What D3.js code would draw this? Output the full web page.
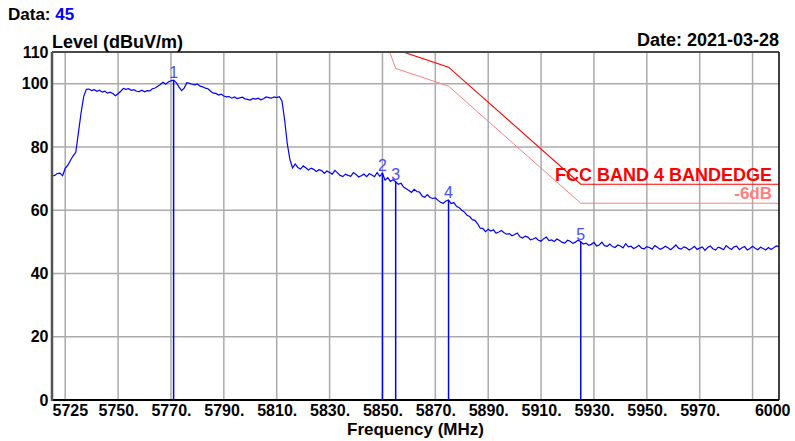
<!DOCTYPE html>
<html>
<head>
<meta charset="utf-8">
<script src="https://cdn.jsdelivr.net/npm/d3@7"></script>
<style>
  html, body { margin: 0; padding: 0; background: #fff; }
  svg { display: block; font-family: "Liberation Sans", Arial, sans-serif; }
</style>
</head>
<body>
<svg id="chart" width="795" height="441"></svg>
<script>
// Sweep: 5725–6000 MHz, one reading per MHz (dBuV/m)
const sweepStart = 5725;
const sweepStep = 1;
const levels = [
  70.8, 71.0, 71.6, 71.7, 70.9, 73.2, 74.2, 75.8, 77.2, 78.3,   // 5725
  84.5, 90.8, 96.0, 98.2, 98.3, 97.8, 98.1, 97.6, 97.9, 97.3,   // 5735
  97.6, 97.0, 97.3, 96.9, 96.2, 96.8, 97.6, 98.5, 98.2, 98.4,   // 5745
  97.9, 98.1, 97.6, 97.5, 97.9, 97.4, 97.8, 97.7, 98.4, 98.6,   // 5755
  99.2, 99.7, 100.4, 99.8, 100.5, 100.9, 101.1, 100.3, 99.0, 97.8, // 5765
  98.6, 100.3, 100.1, 99.8, 99.6, 99.9, 99.2, 99.0, 98.6, 98.4, // 5775
  97.6, 97.0, 96.9, 96.4, 96.7, 96.1, 95.8, 95.9, 95.4, 95.8,   // 5785
  95.3, 95.5, 95.7, 95.2, 95.0, 94.8, 95.3, 95.1, 95.4, 94.9,   // 5795
  95.2, 95.8, 95.6, 95.4, 95.8, 95.6, 95.9, 94.5, 88.5, 81.0,   // 5805
  76.0, 73.4, 74.6, 73.5, 73.0, 74.0, 73.4, 72.7, 73.3, 72.9,   // 5815
  72.2, 72.8, 72.5, 71.6, 72.4, 71.9, 71.4, 72.6, 71.8, 71.0,   // 5825
  70.6, 71.4, 71.0, 70.7, 71.9, 71.3, 70.5, 70.9, 71.4, 70.6,   // 5835
  71.5, 71.1, 70.6, 71.9, 70.7, 71.7, 69.5, 70.3, 69.1, 69.6,   // 5845
  69.0, 68.2, 68.5, 67.3, 66.8, 66.2, 65.6, 66.6, 65.9, 65.7,   // 5855
  64.5, 64.1, 64.9, 64.0, 63.7, 63.9, 63.1, 62.5, 62.2, 62.9,   // 5865
  63.2, 62.1, 62.4, 61.2, 60.8, 60.0, 59.4, 58.4, 58.0, 57.0,   // 5875
  56.8, 55.7, 54.3, 54.2, 53.2, 54.0, 53.4, 53.8, 52.7, 53.1,   // 5885
  53.6, 52.9, 52.4, 52.6, 51.9, 52.3, 52.8, 51.6, 51.2, 51.8,   // 5895
  51.5, 50.6, 50.9, 51.3, 50.5, 50.2, 51.0, 51.5, 50.4, 50.6,   // 5905
  50.1, 50.9, 50.4, 49.8, 49.6, 50.5, 50.2, 49.5, 49.9, 50.6,   // 5915
  50.0, 49.3, 49.6, 48.9, 49.2, 49.8, 48.7, 49.0, 49.9, 48.8,   // 5925
  48.6, 49.3, 48.5, 48.2, 49.0, 48.7, 48.1, 49.4, 48.4, 48.6,   // 5935
  47.9, 48.3, 48.9, 48.0, 47.8, 48.5, 48.2, 47.7, 48.8, 48.3,   // 5945
  47.6, 48.0, 48.6, 48.1, 47.5, 48.2, 49.0, 48.0, 47.7, 48.4,   // 5955
  48.1, 47.4, 47.9, 48.6, 47.6, 48.0, 48.4, 47.3, 48.2, 48.7,   // 5965
  47.8, 47.4, 48.3, 48.0, 47.5, 48.8, 48.1, 47.6, 48.4, 48.6,   // 5975
  47.5, 48.1, 48.5, 47.4, 47.9, 48.6, 48.0, 47.5, 48.3, 47.9,   // 5985
  47.4, 48.2, 47.6, 48.1, 48.7, 48.5                            // 5995
];

// Markers
const markerIds = ["1", "2", "3", "4", "5"];
const markerFreq = [5771, 5850, 5855, 5875, 5925];
const markerLevel = [101.1, 71.7, 69.0, 63.2, 50.0];

// FCC band 4 band-edge limit and the -6 dB line below it
const limitFreq = [5850, 5855, 5875, 5925, 6000];
const limitLevel = [122.2, 110.8, 105.2, 68.2, 68.2];
const marginDb = 6;

// Axes
const xDomain = [5725, 6000];
const yDomain = [0, 110];
const xGrid = [5730, 5750, 5770, 5790, 5810, 5830, 5850, 5870, 5890, 5910, 5930, 5950, 5970, 5990];
const xTickValues = [5725, 5750, 5770, 5790, 5810, 5830, 5850, 5870, 5890, 5910, 5930, 5950, 5970, 6000];
const xTickLabels = ["5725", "5750.", "5770.", "5790.", "5810.", "5830.", "5850.", "5870.", "5890.", "5910.", "5930.", "5950.", "5970.", "6000"];
const yTickValues = [0, 20, 40, 60, 80, 100, 110];
const yGrid = [20, 40, 60, 80, 100];

const dataNo = "45";
const dateText = "Date: 2021-03-28";

const trace = levels.map((v, i) => ({ f: sweepStart + i * sweepStep, v }));

const svg = d3.select("#chart");
const plot = { left: 52, right: 779, top: 52, bottom: 400 };

const x = d3.scaleLinear().domain(xDomain).range([plot.left, plot.right]);
const y = d3.scaleLinear().domain(yDomain).range([plot.bottom, plot.top]);

svg.append("defs").append("clipPath").attr("id", "plotClip")
  .append("rect")
  .attr("x", plot.left).attr("y", plot.top)
  .attr("width", plot.right - plot.left).attr("height", plot.bottom - plot.top);

// Grid
const grid = svg.append("g").attr("stroke", "#ababab").attr("stroke-width", 1.5);
grid.selectAll(".gx").data(xGrid).join("line")
  .attr("x1", d => x(d)).attr("x2", d => x(d))
  .attr("y1", plot.top).attr("y2", plot.bottom);
grid.selectAll(".gy").data(yGrid).join("line")
  .attr("x1", plot.left).attr("x2", plot.right)
  .attr("y1", d => y(d)).attr("y2", d => y(d));

// Limit lines
const limitPts = limitFreq.map((f, i) => ({ f, v: limitLevel[i] }));
const marginPts = limitPts.map(d => ({ f: d.f, v: d.v - marginDb }));
const lineGen = d3.line().x(d => x(d.f)).y(d => y(d.v));
const clipped = svg.append("g").attr("clip-path", "url(#plotClip)");
clipped.append("path").datum(marginPts)
  .attr("d", lineGen).attr("fill", "none")
  .attr("stroke", "#ff7f7f").attr("stroke-width", 1);
clipped.append("path").datum(limitPts)
  .attr("d", lineGen).attr("fill", "none")
  .attr("stroke", "#ff0000").attr("stroke-width", 1.1);

// Trace
clipped.append("path").datum(trace)
  .attr("d", lineGen).attr("fill", "none")
  .attr("stroke", "#0000ff").attr("stroke-width", 1.2)
  .attr("stroke-linejoin", "miter");

// Markers
const markers = markerIds.map((id, i) => ({ id, f: markerFreq[i], v: markerLevel[i] }));
svg.append("g").selectAll("line").data(markers).join("line")
  .attr("x1", d => x(d.f)).attr("x2", d => x(d.f))
  .attr("y1", d => y(d.v)).attr("y2", y(0))
  .attr("stroke", "#0000ff").attr("stroke-width", 1.5);
svg.append("g").selectAll("text").data(markers).join("text")
  .attr("x", d => x(d.f)).attr("y", d => y(d.v) - 2)
  .attr("text-anchor", "middle")
  .attr("font-size", 16).attr("fill", "#4a4aff")
  .text(d => d.id);

// Limit labels
svg.append("text")
  .attr("x", plot.right - 7).attr("y", y(limitLevel[limitLevel.length - 1]) - 3)
  .attr("text-anchor", "end").attr("font-size", 18).attr("font-weight", "bold")
  .attr("fill", "#ff0000").text("FCC BAND 4 BANDEDGE");
svg.append("text")
  .attr("x", plot.right - 7).attr("y", y(limitLevel[limitLevel.length - 1] - marginDb) - 4)
  .attr("text-anchor", "end").attr("font-size", 17).attr("font-weight", "bold")
  .attr("fill", "#ff7f7f").text("-" + marginDb + "dB");

// Frame
const frame = svg.append("g");
frame.append("line").attr("x1", plot.left).attr("x2", plot.right)
  .attr("y1", plot.top).attr("y2", plot.top).attr("stroke", "#4a4a4a").attr("stroke-width", 2);
frame.append("line").attr("x1", plot.right).attr("x2", plot.right)
  .attr("y1", plot.top).attr("y2", plot.bottom).attr("stroke", "#000").attr("stroke-width", 1.5);
frame.append("line").attr("x1", plot.left).attr("x2", plot.right)
  .attr("y1", plot.bottom).attr("y2", plot.bottom).attr("stroke", "#000").attr("stroke-width", 2);
frame.append("line").attr("x1", plot.left).attr("x2", plot.left)
  .attr("y1", plot.top).attr("y2", plot.bottom + 1).attr("stroke", "#555").attr("stroke-width", 2.5);

// X axis labels
const xAxis = d3.axisBottom(x)
  .tickValues(xTickValues)
  .tickFormat((d, i) => xTickLabels[i])
  .tickSize(0).tickPadding(5);
const gx = svg.append("g").attr("transform", `translate(0,${plot.bottom})`).call(xAxis);
gx.select(".domain").remove();
gx.selectAll("text")
  .attr("font-size", 16).attr("font-weight", "bold").attr("fill", "#000")
  .attr("font-family", "Liberation Sans, Arial, sans-serif")
  .attr("text-anchor", (d, i) => i === 0 ? "start" : (i === xTickValues.length - 1 ? "end" : "middle"))
  .attr("dx", (d, i) => i === xTickValues.length - 1 ? 11 : 0);

// Y axis labels
const yAxis = d3.axisLeft(y).tickValues(yTickValues).tickSize(0).tickPadding(3);
const gy = svg.append("g").attr("transform", `translate(${plot.left - 0.5},0)`).call(yAxis);
gy.select(".domain").remove();
gy.selectAll("text")
  .attr("font-size", 16).attr("font-weight", "bold").attr("fill", "#000")
  .attr("font-family", "Liberation Sans, Arial, sans-serif");

// Titles
svg.append("text").attr("x", 8).attr("y", 20)
  .attr("font-size", 17).attr("font-weight", "bold")
  .call(t => {
    t.append("tspan").attr("fill", "#000").text("Data: ");
    t.append("tspan").attr("fill", "#0000ff").text(dataNo);
  });
svg.append("text").attr("x", plot.left).attr("y", 48)
  .attr("font-size", 18).attr("font-weight", "bold").attr("fill", "#000")
  .text("Level (dBuV/m)");
svg.append("text").attr("x", plot.right).attr("y", 46)
  .attr("text-anchor", "end")
  .attr("font-size", 18).attr("font-weight", "bold").attr("fill", "#000")
  .text(dateText);
svg.append("text").attr("x", (plot.left + plot.right) / 2).attr("y", 435)
  .attr("text-anchor", "middle")
  .attr("font-size", 17).attr("font-weight", "bold").attr("fill", "#000")
  .text("Frequency (MHz)");
</script>
</body>
</html>
